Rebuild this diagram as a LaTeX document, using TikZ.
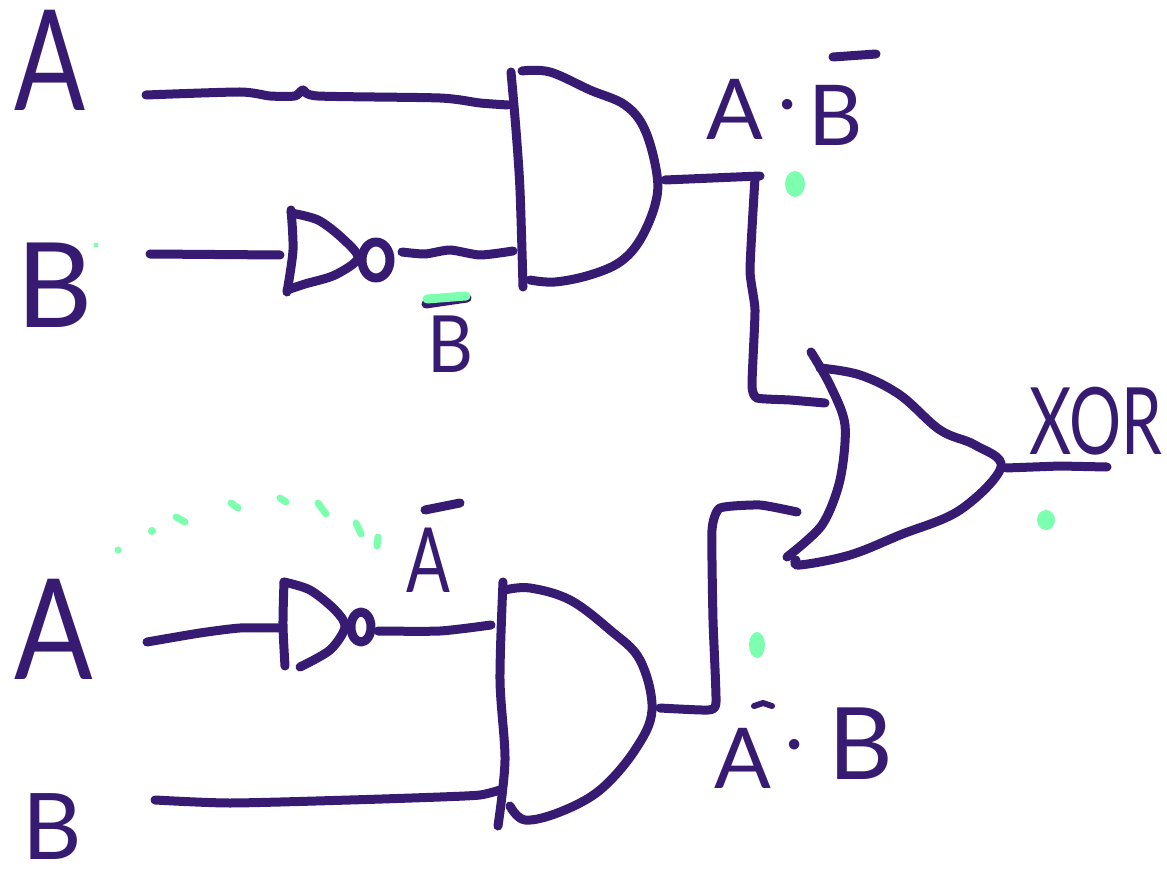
\documentclass[tikz,border=0pt]{standalone}
\usepackage{fontspec}
\setmainfont{Lato}
\definecolor{ink}{HTML}{371B72}
\definecolor{mint}{HTML}{7DFFB0}
\tikzset{
  inkline/.style={draw=ink,line width=9pt,line cap=round,line join=round},
  wire/.style={inkline},
  gate/.style={inkline},
  hand/.style={text=ink,inner sep=0pt,font=\fontsize{#1}{#1}\selectfont},
  speck/.style={fill=mint,draw=none},
  fleck/.style={draw=mint,line width=7pt,line cap=round},
}
\begin{document}
\begin{tikzpicture}[x=1pt,y=-1pt]
\useasboundingbox[fill=white] (0,0) rectangle (1167,877);
% ports
\coordinate (a1in) at (146,95);
\coordinate (and1a) at (508,105);
\coordinate (b1in) at (150,254);
\coordinate (not1in) at (280,255);
\coordinate (not1out) at (402,252);
\coordinate (and1b) at (513,251);
\coordinate (and1out) at (665,180);
\coordinate (or1a) at (825,403);
\coordinate (or1b) at (797,512);
\coordinate (or1out) at (1006,468);
\coordinate (xorout) at (1107,467);
\coordinate (a2in) at (147,642);
\coordinate (not2in) at (278,628);
\coordinate (not2out) at (378,631);
\coordinate (and2a) at (491,625);
\coordinate (b2in) at (155,800);
\coordinate (and2b) at (500,790);
\coordinate (and2out) at (660,708);
% text
\node[hand=140,xscale=.75] (la1) at (50,60) {A};
\node[hand=118] (lb1) at (55,285) {B};
\node[hand=140,xscale=.83] (la2) at (54,629) {A};
\node[hand=92] (lb2) at (52,827) {B};
\node[hand=84] (lab) at (735,109) {A};
\node[hand=70] (ldot1) at (788,112) {·};
\node[hand=84] (lbb) at (836,115) {B};
\node[hand=79,xscale=.9] (lnb) at (450,344) {B};
\node[hand=90,xscale=.72] (lna) at (428,560) {A};
\node[hand=84] (lna2) at (743,758) {A};
\node[hand=70] (ldot2) at (795,752) {·};
\node[hand=100] (lb3) at (861,744) {B};
\node[hand=93,xscale=.7] (lxor) at (1096,421) {XOR};
% bars
\draw[inkline] (426,304) -- (467,298);
\draw[mint,line width=9pt,line cap=round] (427,299) -- (466,296);
\draw[inkline] (833,57) -- (876,54);
\draw[inkline] (425,510) -- (460,503);
\draw[inkline,line width=6pt] (754,706) -- (763,703) -- (772,706);
% AND 1
\draw[gate] plot[smooth,tension=.5] coordinates {(511,72) (516,130) (520,190) (523,287)};
\draw[gate] plot[smooth,tension=.6] coordinates {(522,71) (550,72) (590,90) (625,105) (645,130) (657,175) (655,205) (640,240) (620,262) (590,275) (555,282) (530,280)};
% NOT 1
\draw[gate] plot[smooth,tension=.5] coordinates {(291,210) (293,250) (287,292)};
\draw[gate] plot[smooth,tension=.5] coordinates {(291,213) (318,220) (342,238) (358,258) (335,275) (305,284) (287,290)};
\draw[gate] (376,260) ellipse [x radius=14,y radius=18];
% NOT 2
\draw[gate] plot[smooth,tension=.5] coordinates {(284,582) (283,625) (285,666)};
\draw[gate] plot[smooth,tension=.5] coordinates {(284,582) (310,590) (335,610) (345,627) (330,650) (300,667)};
\draw[gate] (361,627) ellipse [x radius=10,y radius=15];
% AND 2
\draw[gate] plot[smooth,tension=.5] coordinates {(503,582) (500,680) (505,760) (498,826)};
\draw[gate] plot[smooth,tension=.6] coordinates {(505,590) (530,588) (570,600) (610,630) (640,660) (652,710) (635,750) (600,790) (560,812) (525,820) (510,806)};
% OR
\draw[gate] plot[smooth,tension=.5] coordinates {(811,352) (830,385) (845,425) (840,480) (822,525) (787,557)};
\draw[gate] plot[smooth,tension=.6] coordinates {(820,368) (860,375) (900,395) (940,430) (975,445) (1001,467) (960,510) (900,535) (850,555) (800,565) (796,560)};
% wires
\draw[wire] plot[smooth,tension=.4] coordinates {(a1in) (240,92) (270,96) (295,96) (303,90) (318,96) (440,98) (480,103) (and1a)};
\draw[wire] (b1in) -- (not1in);
\draw[wire] plot[smooth,tension=.4] coordinates {(not1out) (425,254) (450,250) (480,255) (and1b)};
\draw[wire] (and1out) -- (760,176);
\draw[wire] plot[smooth,tension=.3] coordinates {(755,178) (750,270) (755,310) (752,385) (757,398) (790,400) (or1a)};
\draw[wire] plot[smooth,tension=.4] coordinates {(a2in) (200,633) (240,628) (not2in)};
\draw[wire] plot[smooth,tension=.4] coordinates {(not2out) (440,631) (and2a)};
\draw[wire] plot[smooth,tension=.4] coordinates {(b2in) (230,803) (350,800) (440,797) (480,795) (and2b)};
\draw[wire] plot[smooth,tension=.3] coordinates {(and2out) (708,710) (716,702) (713,620) (712,530) (720,508) (760,505) (or1b)};
\draw[wire] (or1out) -- (1060,466) -- (xorout);
% green specks
\fill[speck] (795,184) ellipse [x radius=10,y radius=13];
\fill[speck] (1046,520) ellipse [x radius=9,y radius=10];
\fill[speck] (757,645) ellipse [x radius=8,y radius=13];
\fill[speck] (96,245) circle (2.5);
\fill[speck] (118,550) circle (3.5);
\fill[speck] (152,531) circle (4);
\draw[fleck] (176,517) -- (185,522);
\draw[fleck] (231,503) -- (238,508);
\draw[fleck] (280,498) -- (286,502);
\draw[fleck] (318,503) -- (326,514);
\draw[fleck] (356,523) -- (361,534);
\draw[fleck] (378,537) -- (377,546);
\end{tikzpicture}
\end{document}
